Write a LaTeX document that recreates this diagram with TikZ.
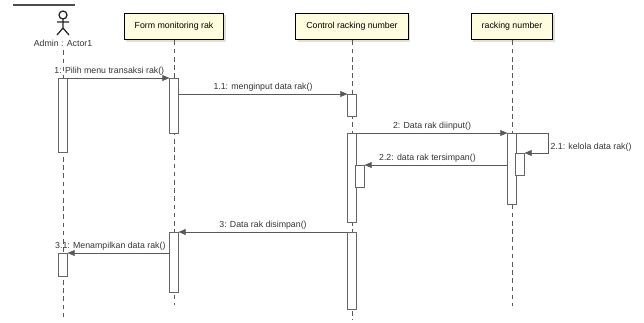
\documentclass[tikz,border=0pt]{standalone}
\usepackage{fontspec}
\setmainfont{Liberation Sans}
\usepackage{tikz}
\usetikzlibrary{arrows.meta}
\usetikzlibrary{shadows}
\tikzset{>=latex}
\tikzstyle{obj} = [rectangle, draw=black, line width=1.1pt, fill=yellow!12, drop shadow={opacity=0.25, shadow xshift=1.5pt, shadow yshift=-1.5pt}, minimum height=0.8cm, inner xsep=9pt, font=\fontsize{7.5}{9}\selectfont]
\tikzstyle{act} = [rectangle, draw=black!60, fill=white, minimum width=0.26cm, inner sep=0pt, anchor=north]
\tikzstyle{life} = [draw=black!65, dash pattern=on 4pt off 3pt]
\tikzstyle{msg} = [-{Triangle[length=6pt, width=5pt]}, draw=black!65]
\tikzstyle{lbl} = [above, inner sep=2.5pt, font=\fontsize{7.5}{9}\selectfont, text=black!80]

\begin{document}
\begin{tikzpicture}[x=0.03cm, y=-0.03cm]
\useasboundingbox (0,0) rectangle (644,322);
\draw [black!70, line width=0.9pt] (13,5) -- (75,5);
\draw [black!85, line width=1.1pt] (63,15) circle (3.4pt);
\draw [black!85, line width=1.1pt] (63,19) -- (63,28) (57,22) -- (69,22) (57,35) -- (63,28) -- (69,35);
\node [font=\fontsize{7.5}{9}\selectfont, text=black!80] (actor) at (63,43) {Admin : Actor1};
\node [obj] (form) at (174,26.5) {Form monitoring rak};
\node [obj] (ctrl) at (352,26.5) {Control racking number};
\node [obj] (rack) at (512,26.5) {racking number};

\coordinate (actorend) at (63,318);
\coordinate (formend) at (174,305);
\coordinate (ctrlend) at (352,320);
\coordinate (rackend) at (512,306);
\draw [life] (actor) -- (actorend);
\draw [life] (form) -- (formend);
\draw [life] (ctrl) -- (ctrlend);
\draw [life] (rack) -- (rackend);

\node [act, minimum height=2.22cm] (a1) at (63,78) {};
\node [act, minimum height=0.69cm] (a2) at (63,253) {};
\node [act, minimum height=1.65cm] (f1) at (174,78) {};
\node [act, minimum height=1.8cm] (f2) at (174,232) {};
\node [act, minimum height=0.66cm] (c1) at (352,94) {};
\node [act, minimum height=2.67cm] (c2) at (352,133) {};
\node [act, minimum height=0.66cm] (c3) at (360,165) {};
\node [act, minimum height=2.31cm] (c4) at (352,232) {};
\node [act, minimum height=2.13cm] (r1) at (512,133) {};
\node [act, minimum height=0.66cm] (r2) at (520,153) {};

\draw [msg] (a1.north east) -- node [lbl, pos=0.41] {1: Pilih menu transaksi rak()} (f1.north west);
\draw [msg] (f1.east |- c1.north) -- node [lbl] {1.1: menginput data rak()} (c1.north west);
\draw [msg] (c2.north east) -- node [lbl] {2: Data rak diinput()} (r1.north west);
\coordinate (selftop) at (548,133);
\coordinate (selfbot) at (548,153);
\draw [msg] (r1.north east) -- (selftop) -- node [right, pos=0.7, inner sep=2pt, font=\fontsize{7.5}{9}\selectfont, text=black!80] {2.1: kelola data rak()} (selfbot) -- (r2.north east);
\draw [msg] (r1.west |- c3.north) -- node [lbl, pos=0.56] {2.2: data rak tersimpan()} (c3.north east);
\draw [msg] (c4.north west) -- node [lbl] {3: Data rak disimpan()} (f2.north east);
\draw [msg] (f2.west |- a2.north) -- node [lbl, pos=0.58] {3.1: Menampilkan data rak()} (a2.north east);
\end{tikzpicture}
\end{document}
